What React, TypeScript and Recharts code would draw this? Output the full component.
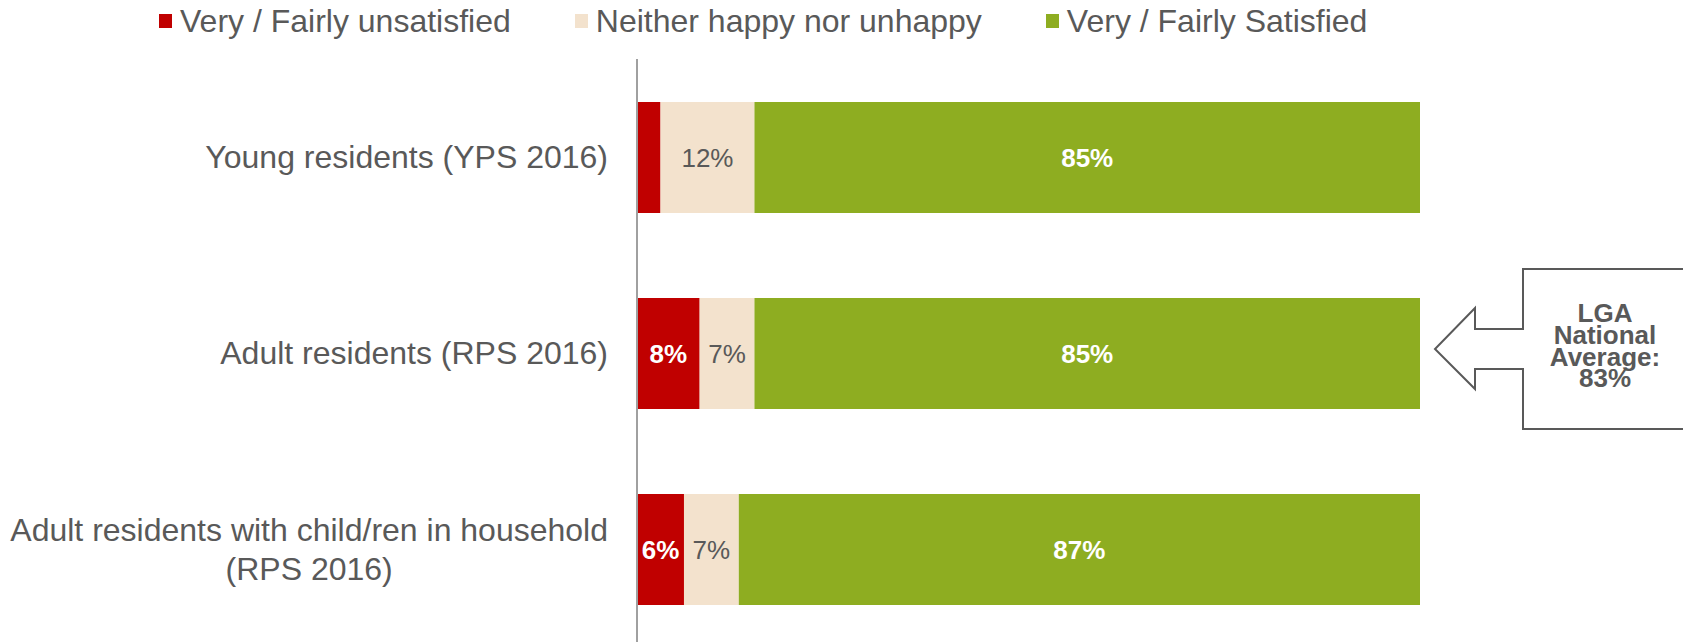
import { BarChart, Bar, XAxis, YAxis, Legend, LabelList, Customized } from "recharts";

const categories = [
  "Young residents (YPS 2016)",
  "Adult residents (RPS 2016)",
  "Adult residents with child/ren in household (RPS 2016)",
];
const unsatisfied = [3, 8, 6];
const neutral = [12, 7, 7];
const satisfied = [85, 85, 87];
const seriesNames = ["Very / Fairly unsatisfied", "Neither happy nor unhappy", "Very / Fairly Satisfied"];
const seriesColors = ["#C00000", "#F3E2CD", "#8EAD21"];
const nationalAverage = 83;

const FONT = "'Liberation Sans', Arial, sans-serif";
const TEXT_GREY = "#595959";

const data = categories.map((name, i) => ({
  name,
  unsatisfied: unsatisfied[i],
  neutral: neutral[i],
  satisfied: satisfied[i],
}));

let ctx: CanvasRenderingContext2D | null = null;
const measure = (s: string) => {
  if (!ctx) {
    ctx = document.createElement("canvas").getContext("2d");
    if (ctx) ctx.font = `32px ${FONT}`;
  }
  return ctx ? ctx.measureText(s).width : s.length * 16;
};

const wrap = (label: string, maxWidth: number) => {
  const words = label.split(" ");
  const lines: string[] = [];
  let cur = "";
  words.forEach((w) => {
    const next = cur ? cur + " " + w : w;
    if (cur && measure(next) > maxWidth) {
      lines.push(cur);
      cur = w;
    } else cur = next;
  });
  if (cur) lines.push(cur);
  return lines;
};

const CategoryTick = (props: any) => {
  const { x, y, payload } = props;
  const lines = wrap(payload.value, 605);
  const right = x - 21;
  if (lines.length === 1) {
    return (
      <text x={right} y={y} dy="0.35em" textAnchor="end" fontSize={32} fill={TEXT_GREY} fontFamily={FONT}>
        {lines[0]}
      </text>
    );
  }
  const w = Math.max(...lines.map(measure));
  const cx = right - w / 2;
  const lh = 39;
  const start = y - ((lines.length - 1) * lh) / 2;
  return (
    <text textAnchor="middle" fontSize={32} fill={TEXT_GREY} fontFamily={FONT}>
      {lines.map((l, i) => (
        <tspan key={i} x={cx} y={start + i * lh} dy="0.35em">
          {l}
        </tspan>
      ))}
    </text>
  );
};

const LegendContent = () => (
  <div style={{ display: "flex", alignItems: "center", height: 42, paddingLeft: 159, fontFamily: FONT }}>
    {seriesNames.map((n, i) => (
      <div key={n} style={{ display: "flex", alignItems: "center", marginRight: 64 }}>
        <span style={{ width: 13, height: 14, background: seriesColors[i], marginRight: 8, display: "inline-block" }} />
        <span style={{ fontSize: 32, color: TEXT_GREY, lineHeight: "32px" }}>{n}</span>
      </div>
    ))}
  </div>
);

const pct = (v: any) => (Number(v) >= 5 ? `${v}%` : "");

// arrow-shaped callout pointing at the chart, text block drawn as one element
const Callout = () => {
  const lines = ["LGA", "National", "Average:", `${nationalAverage}%`];
  return (
    <g>
      <path
        d="M1700,269 L1523,269 L1523,329 L1475,329 L1475,308 L1435,349 L1475,389 L1475,369 L1523,369 L1523,429 L1700,429"
        fill="#fff"
        stroke={TEXT_GREY}
        strokeWidth={2}
      />
      <text textAnchor="middle" fontSize={26} fontWeight="bold" fill={TEXT_GREY} fontFamily={FONT}>
        {lines.map((l, i) => (
          <tspan key={l} x={1605} y={313 + i * 21.7} dy="0.35em">
            {l}
          </tspan>
        ))}
      </text>
    </g>
  );
};

export default function App() {
  return (
    <div style={{ position: "fixed", top: 0, left: 0, width: 1683, height: 642, overflow: "hidden", background: "#fff" }}>
      <BarChart
        width={1683}
        height={650}
        data={data}
        layout="vertical"
        margin={{ top: 17, right: 263, bottom: 3, left: 0 }}
        barSize={111}
      >
        <XAxis type="number" domain={[0, 100]} hide />
        <YAxis
          type="category"
          dataKey="name"
          width={637}
          axisLine={{ stroke: "#A0A0A0", strokeWidth: 2 }}
          tickLine={false}
          tick={<CategoryTick />}
          interval={0}
        />
        <Legend verticalAlign="top" content={<LegendContent />} wrapperStyle={{ top: 0, left: 0, width: 1683 }} />
        <Bar dataKey="unsatisfied" name={seriesNames[0]} stackId="a" fill={seriesColors[0]} isAnimationActive={false}>
          <LabelList dataKey="unsatisfied" position="center" formatter={pct} fill="#fff" fontSize={26} fontWeight="bold" fontFamily={FONT} />
        </Bar>
        <Bar dataKey="neutral" name={seriesNames[1]} stackId="a" fill={seriesColors[1]} isAnimationActive={false}>
          <LabelList dataKey="neutral" position="center" formatter={pct} fill={TEXT_GREY} fontSize={26} fontFamily={FONT} />
        </Bar>
        <Bar dataKey="satisfied" name={seriesNames[2]} stackId="a" fill={seriesColors[2]} isAnimationActive={false}>
          <LabelList dataKey="satisfied" position="center" formatter={pct} fill="#fff" fontSize={26} fontWeight="bold" fontFamily={FONT} />
        </Bar>
        <Customized component={<Callout />} />
      </BarChart>
    </div>
  );
}
